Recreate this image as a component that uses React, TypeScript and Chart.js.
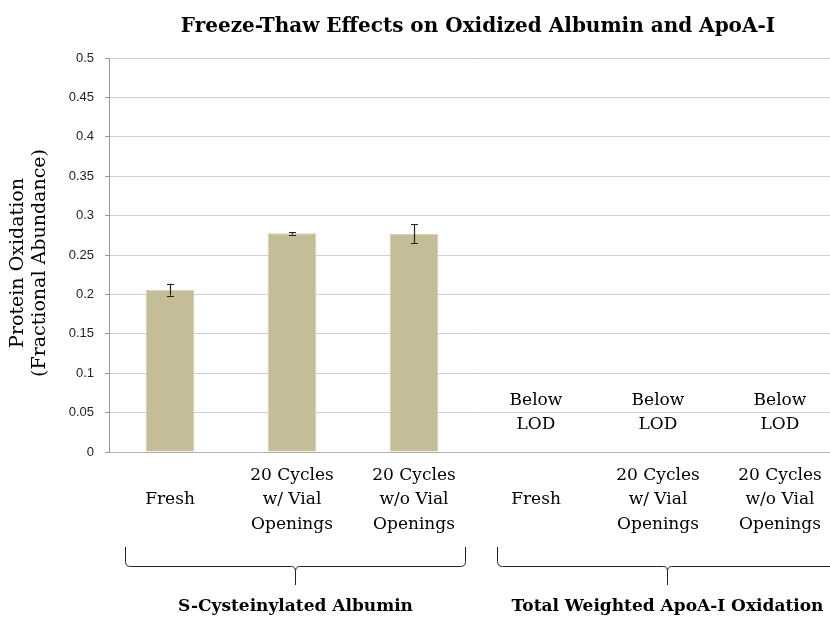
import React, { useEffect, useRef } from "react";
import { Chart, registerables } from "chart.js";

Chart.register(...registerables);

const categories: string[][] = [
  ["", "Fresh", ""],
  ["20 Cycles", "w/ Vial", "Openings"],
  ["20 Cycles", "w/o Vial", "Openings"],
  ["", "Fresh", ""],
  ["20 Cycles", "w/ Vial", "Openings"],
  ["20 Cycles", "w/o Vial", "Openings"],
];
const values: (number | null)[] = [0.206, 0.2775, 0.2768, null, null, null];
const errors: (number | null)[] = [0.0075, 0.0015, 0.012, null, null, null];
const belowLod: (string[] | null)[] = [null, null, null, ["Below", "LOD"], ["Below", "LOD"], ["Below", "LOD"]];
const groupLabels: string[] = ["S-Cysteinylated Albumin", "Total Weighted ApoA-I Oxidation"];
const yTickLabels: string[] = ["0", "0.05", "0.1", "0.15", "0.2", "0.25", "0.3", "0.35", "0.4", "0.45", "0.5"];
const titleText = "Freeze-Thaw Effects on Oxidized Albumin and ApoA-I";
const yTitle: string[] = ["Protein Oxidation", "(Fractional Abundance)"];

const SERIF = "'DejaVu Serif', serif";

const overlayPlugin = {
  id: "overlay",
  afterDatasetsDraw(chart: any) {
    const ctx = chart.ctx;
    const xs = chart.scales.x;
    const ys = chart.scales.y;
    const area = chart.chartArea;
    const meta = chart.getDatasetMeta(0);
    ctx.save();
    // error bars
    ctx.strokeStyle = "#222";
    ctx.lineWidth = 1.2;
    values.forEach((v, i) => {
      const e = errors[i];
      if (v == null || e == null) return;
      const x = Math.round(meta.data[i].x) + 0.5;
      const yTop = ys.getPixelForValue(v + e);
      const yBot = ys.getPixelForValue(v - e);
      ctx.beginPath();
      ctx.moveTo(x, yTop);
      ctx.lineTo(x, yBot);
      ctx.moveTo(x - 3.5, Math.round(yTop) + 0.5);
      ctx.lineTo(x + 3.5, Math.round(yTop) + 0.5);
      ctx.moveTo(x - 3.5, Math.round(yBot) + 0.5);
      ctx.lineTo(x + 3.5, Math.round(yBot) + 0.5);
      ctx.stroke();
    });
    // Below LOD labels
    ctx.fillStyle = "#000";
    ctx.font = `17px ${SERIF}`;
    ctx.textAlign = "center";
    ctx.textBaseline = "middle";
    belowLod.forEach((lines, i) => {
      if (!lines) return;
      const x = xs.getPixelForValue(i);
      lines.forEach((t, j) => {
        ctx.fillText(t, x, area.bottom - 51 + j * 24);
      });
    });
    ctx.restore();
  },
  afterDraw(chart: any) {
    const ctx = chart.ctx;
    const xs = chart.scales.x;
    const area = chart.chartArea;
    ctx.save();
    // title
    ctx.fillStyle = "#000";
    ctx.font = `bold 20px ${SERIF}`;
    ctx.textAlign = "center";
    ctx.textBaseline = "middle";
    ctx.fillText(titleText, (area.left + area.right) / 2 + 3, 27);
    // y title
    ctx.save();
    ctx.translate(29, (area.top + area.bottom) / 2 + 8);
    ctx.rotate(-Math.PI / 2);
    ctx.font = `19px ${SERIF}`;
    ctx.fillText(yTitle[0], 0, -11);
    ctx.fillText(yTitle[1], 0, 11);
    ctx.restore();
    // brackets & group labels
    const w = xs.getPixelForValue(1) - xs.getPixelForValue(0);
    ctx.strokeStyle = "#222";
    ctx.lineWidth = 1;
    groupLabels.forEach((label, g) => {
      const left = xs.getPixelForValue(g * 3) - w / 2 + 16 + g * 6;
      const right = xs.getPixelForValue(g * 3 + 2) + w / 2 - 10 + g * 6;
      const c = Math.round((left + right) / 2) + 0.5;
      const yTop = area.bottom + 95;
      const yMid = area.bottom + 114.5;
      const yBot = area.bottom + 133;
      const L = Math.round(left) + 0.5;
      const R = Math.round(right) + 0.5;
      ctx.beginPath();
      ctx.moveTo(L, yTop);
      ctx.lineTo(L, yMid - 5);
      ctx.quadraticCurveTo(L, yMid, L + 5, yMid);
      ctx.lineTo(c - 4, yMid);
      ctx.quadraticCurveTo(c, yMid, c, yMid + 5);
      ctx.lineTo(c, yBot);
      ctx.moveTo(c, yMid + 5);
      ctx.quadraticCurveTo(c, yMid, c + 4, yMid);
      ctx.lineTo(R - 5, yMid);
      ctx.quadraticCurveTo(R, yMid, R, yMid - 5);
      ctx.lineTo(R, yTop);
      ctx.stroke();
      ctx.font = `bold 17px ${SERIF}`;
      ctx.fillText(label, c, area.bottom + 155);
    });
    ctx.restore();
  },
};

export default function App() {
  const ref = useRef<HTMLCanvasElement>(null);
  useEffect(() => {
    if (!ref.current) return;
    const chart = new Chart(ref.current, {
      type: "bar",
      data: {
        labels: categories,
        datasets: [
          {
            data: values as any,
            backgroundColor: "#c4bd97",
            borderColor: "#d6d0b3",
            borderWidth: 1,
            barPercentage: 0.4,
            categoryPercentage: 1,
          },
        ],
      },
      options: {
        animation: false,
        responsive: false,
        layout: { padding: { top: 58, right: 4, left: 0, bottom: 0 } },
        plugins: { legend: { display: false }, tooltip: { enabled: false } },
        scales: {
          x: {
            grid: { display: false, drawTicks: false },
            border: { display: true, color: "#b0b0b0" },
            ticks: {
              font: { family: SERIF, size: 17, lineHeight: 1.45 },
              color: "#000",
              padding: 11,
              maxRotation: 0,
              autoSkip: false,
            },
            afterFit: (s: any) => {
              s.height = 168;
            },
          },
          y: {
            min: 0,
            max: 0.5,
            ticks: {
              stepSize: 0.05,
              font: { family: "'Liberation Sans', sans-serif", size: 13 },
              color: "#222",
              padding: 11,
              callback: (_v: any, i: number) => yTickLabels[i],
            },
            grid: { color: "#d0d0d0", tickColor: "#999", tickLength: 4 },
            border: { color: "#999" },
            afterFit: (s: any) => {
              s.width = 109;
            },
          },
        },
      },
      plugins: [overlayPlugin],
    });
    return () => chart.destroy();
  }, []);
  return (
    <div style={{ position: "absolute", left: 0, top: 0, width: 830, height: 620, overflow: "hidden", background: "#fff" }}>
      <canvas ref={ref} width={845} height={620} style={{ display: "block" }} />
    </div>
  );
}
